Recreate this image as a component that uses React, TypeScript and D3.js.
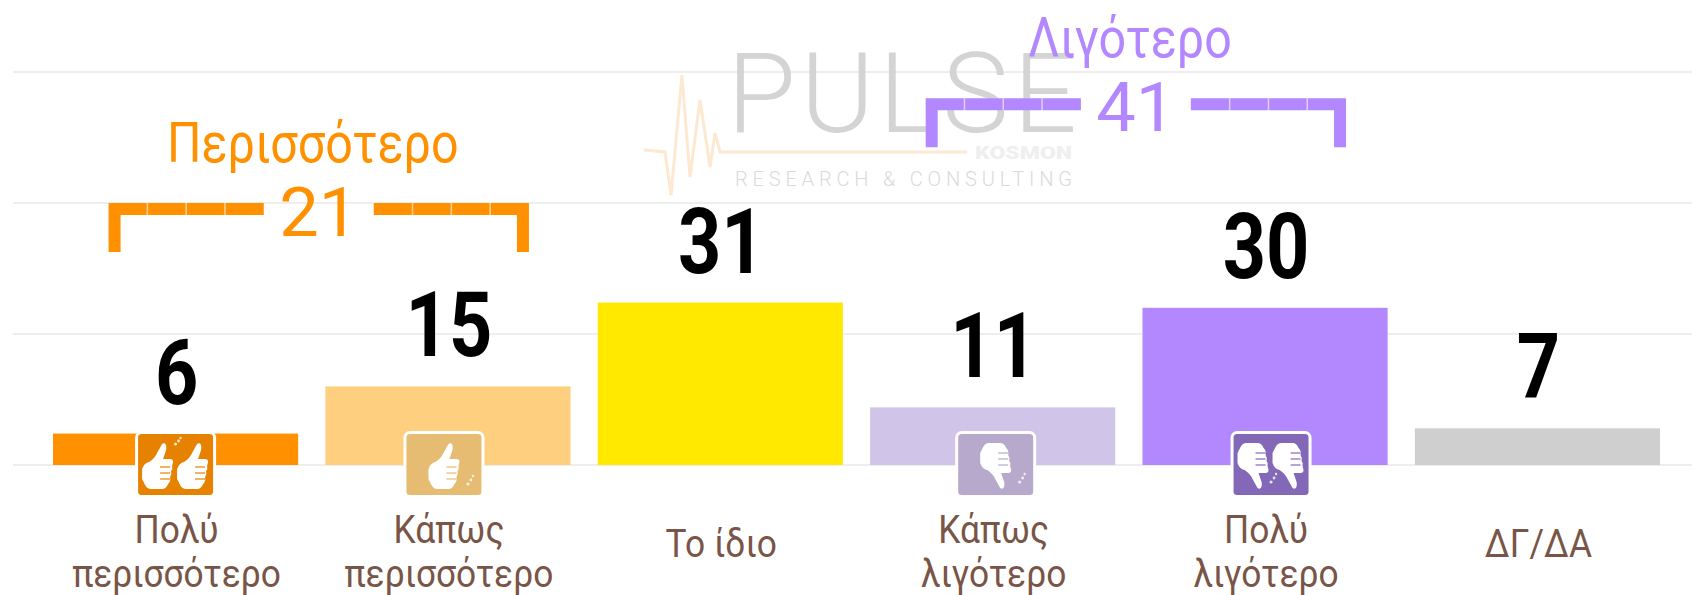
import React from "react";
import * as d3 from "d3";

const categories = [["Πολύ", "περισσότερο"], ["Κάπως", "περισσότερο"], ["Το ίδιο"], ["Κάπως", "λιγότερο"], ["Πολύ", "λιγότερο"], ["ΔΓ/ΔΑ"]];
const values = [6, 15, 31, 11, 30, 7];
const barColors = ["#FF9100", "#FFCF80", "#FFE900", "#D0C4E8", "#B388FF", "#CFCFCF"];
const iconColors = ["#E68200", "#E6BC73", null, "#B6A9CC", "#8468B8", null];
const thumbCounts = [2, 1, 0, 1, 2, 0];
const thumbDown = [false, false, false, true, true, false];
const iconOffsets = [0, -4, 0, 3, 6, 0];
const gridTicks = [0, 25, 50, 75];
const groupLabels = ["Περισσότερο", "Λιγότερο"];
const groupValues = [21, 41];
const groupFirst = [0, 3];
const groupLast = [1, 4];
const groupLevels = [50, 70];
const groupColors = ["#FF9100", "#B388FF"];

const W = 1692, H = 595;
const x = d3.scaleBand<number>().domain(d3.range(6)).range([39.4, 1673.6]).paddingInner(0.1).paddingOuter(0.05);
const y = d3.scaleLinear().domain([0, 75]).range([465, 72]);
const FONT = "Roboto, sans-serif";

const pulse = d3.line()([[644, 150], [665, 152], [671, 195], [682, 75], [690, 177], [700, 100], [710, 167], [715, 133], [720, 152], [967, 152]]) as string;
const THUMB = "M20 1C23-1 25 2 24 7L21 16L28 16Q31 16 31 19L30 23Q31 26 29 28Q30 31 28 34Q29 38 26 41Q24 46 20 46L9 46Q5 46 3 42L0 36L0 26Q2 20 7 19Q13 15 15 10Z";

function Thumb({ cx, cy, down, color }: any) {
  return (
    <g transform={`translate(${cx - 15.5},${cy - 23})${down ? " translate(0,46) scale(1,-1)" : ""}`}>
      <path d={THUMB} fill="#fff" />
      {[24, 30, 36].map((ly) => (
        <path key={ly} d={`M18 ${ly}L28 ${ly}`} stroke={color} strokeWidth={1.6} opacity={0.75} />
      ))}
    </g>
  );
}

function Bracket({ i }: { i: number }) {
  const left = x(groupFirst[i])! + x.bandwidth() / 2 - 67;
  const right = x(groupLast[i])! + x.bandwidth() / 2 + 81;
  const top = y(groupLevels[i]);
  const color = groupColors[i];
  const mid = (left + right) / 2 + 0;
  const gap = 55;
  const segs = 4;
  const segL = (mid - gap - left) / segs;
  return (
    <g>
      <path
        fill={color}
        d={`M${left} ${top + 49}V${top}H${mid - gap}V${top + 12}H${left + 12}V${top + 49}Z M${right} ${top + 49}V${top}H${mid + gap}V${top + 12}H${right - 12}V${top + 49}Z`}
      />
      {d3.range(1, segs).map((k) => (
        <g key={k}>
          <line x1={left + segL * k} x2={left + segL * k} y1={top} y2={top + 12} stroke="#fff" strokeWidth={1.5} opacity={0.6} />
          <line x1={right - segL * k} x2={right - segL * k} y1={top} y2={top + 12} stroke="#fff" strokeWidth={1.5} opacity={0.6} />
        </g>
      ))}
      <text transform={`translate(${mid},${top + 33}) scale(1.02,1)`} textAnchor="middle" fontSize={69} fontWeight={400} fill={color}>
        {groupValues[i]}
      </text>
      <text transform={`translate(${mid - 6},${top - 41}) scale(0.88,1)`} textAnchor="middle" fontSize={55} fontWeight={400} fill={color}>
        {groupLabels[i]}
      </text>
    </g>
  );
}

export default function App() {
  return (
    <svg width={W} height={H} viewBox={`0 0 ${W} ${H}`} fontFamily={FONT} style={{ position: "absolute", left: 0, top: 0, display: "block" }}>
      <rect width={W} height={H} fill="#fff" />
      {gridTicks.map((t) => (
        <line key={t} x1={13} x2={W} y1={y(t)} y2={y(t)} stroke="#EEEEEE" strokeWidth={2} />
      ))}
      <g>
        <text x={727} y={132} fontSize={112} fontWeight={300} fill="#D4D4D4" textLength={350} lengthAdjust="spacing">PULSE</text>
        <text x={975} y={159} fontSize={19} fontWeight={900} fill="#EFEFEF" textLength={97} lengthAdjust="spacingAndGlyphs">KOSMON</text>
        <text x={735} y={186} fontSize={20} fontWeight={300} fill="#DADADA" textLength={337} lengthAdjust="spacing">RESEARCH &amp; CONSULTING</text>
        <path d={pulse} fill="none" stroke="#FDE8D2" strokeWidth={3} />
      </g>
      {values.map((v, i) => (
        <rect key={i} x={x(i)} y={y(v)} width={x.bandwidth()} height={y(0) - y(v)} fill={barColors[i]} />
      ))}
      {values.map((v, i) => (
        <text key={i} transform={`translate(${x(i)! + x.bandwidth() / 2 + 1},${y(v) - 30}) scale(0.84,1)`} textAnchor="middle" fontSize={90} fontWeight={700} fill="#000">
          {v}
        </text>
      ))}
      {groupLabels.map((_, i) => (
        <Bracket key={i} i={i} />
      ))}
      {values.map((_, i) => {
        const col = iconColors[i];
        if (!col) return null;
        const cx = x(i)! + x.bandwidth() / 2 + iconOffsets[i];
        const cy = 466;
        const n = thumbCounts[i];
        return (
          <g key={i}>
            <rect x={cx - 39} y={cy - 33.5} width={78} height={64} rx={5} fill={col} stroke="#fff" strokeWidth={3} />
            {d3.range(n).map((k) => (
              <Thumb key={k} cx={cx + (n === 2 ? (k === 0 ? -18 : 17) : 0)} cy={cy} down={thumbDown[i]} color={col} />
            ))}
            <g fill="#fff" opacity={0.8}>
              <circle cx={cx + (n === 2 ? 0 : 24)} cy={cy + (thumbDown[i] ? 16 : n === 2 ? -22 : 18)} r={1.6} />
              <circle cx={cx + (n === 2 ? 3 : 27)} cy={cy + (thumbDown[i] ? 12 : n === 2 ? -25 : 14)} r={1.4} />
              <circle cx={cx + (n === 2 ? 5 : 29)} cy={cy + (thumbDown[i] ? 8 : n === 2 ? -28 : 10)} r={1.2} />
            </g>
          </g>
        );
      })}
      {categories.map((lines, i) => {
        const cx = x(i)! + x.bandwidth() / 2 + 1;
        return lines.map((line, k) => (
          <text
            key={k}
            transform={`translate(${cx},${lines.length === 1 ? 557 : 543 + k * 44}) scale(0.93,1)`}
            textAnchor="middle"
            fontSize={38}
            fill="#795548"
          >
            {line}
          </text>
        ));
      })}
    </svg>
  );
}
